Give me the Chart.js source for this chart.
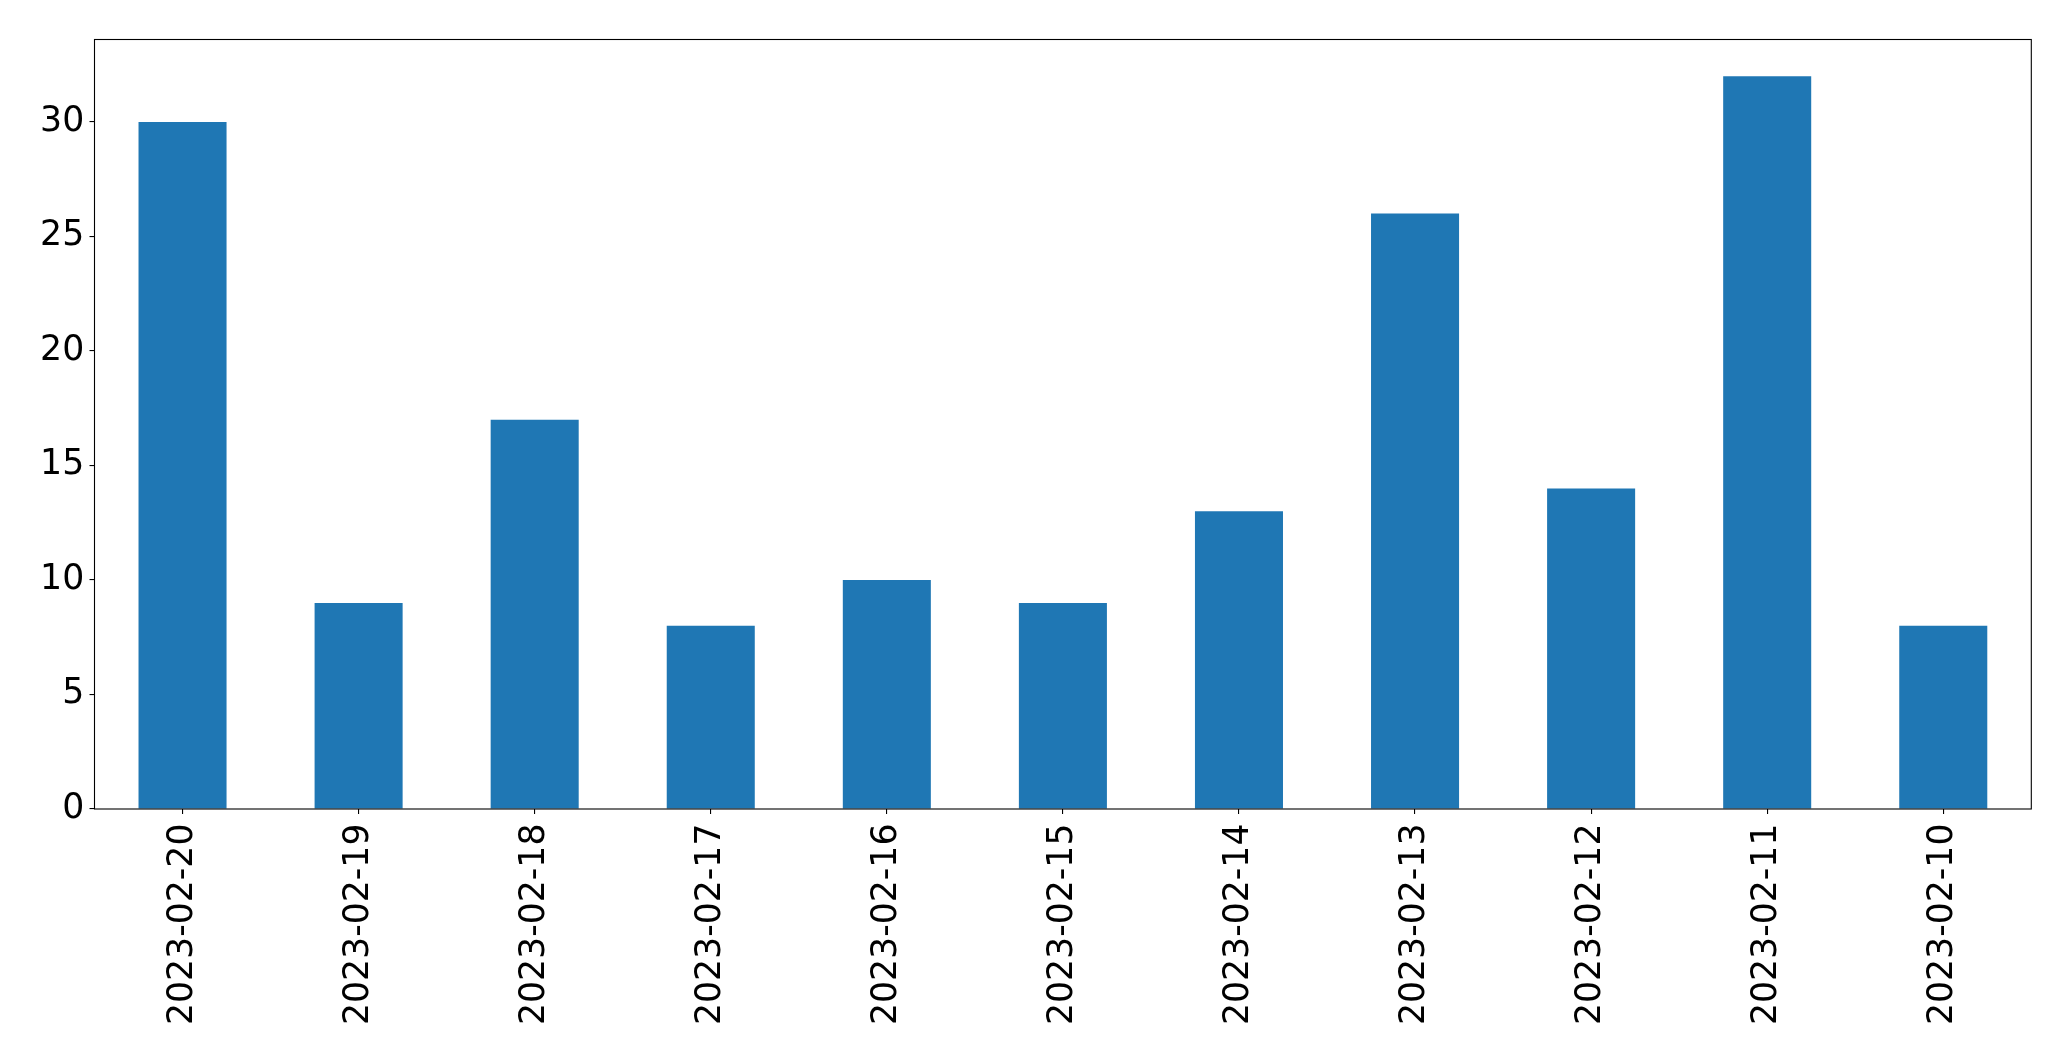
<!DOCTYPE html>
<html>
<head>
<meta charset="utf-8">
<script src="https://cdn.jsdelivr.net/npm/chart.js@4"></script>
<style>
  html, body { margin: 0; padding: 0; background: #fff; }
  canvas { display: block; }
</style>
</head>
<body>
<canvas id="barChart" width="2071" height="1061"></canvas>
<script>
// données
const dates = ['2023-02-20', '2023-02-19', '2023-02-18', '2023-02-17', '2023-02-16', '2023-02-15',
               '2023-02-14', '2023-02-13', '2023-02-12', '2023-02-11', '2023-02-10'];
const counts = [30, 9, 17, 8, 10, 9, 13, 26, 14, 32, 8];
const yTicks = [0, 5, 10, 15, 20, 25, 30];

const FONT = { family: 'DejaVu Sans', size: 34.7 };

// cadre noir autour de la zone de tracé (comme matplotlib)
const framePlugin = {
    id: 'frame',
    afterDraw(chart) {
        const { ctx, chartArea: a } = chart;
        ctx.save();
        ctx.strokeStyle = '#000';
        ctx.lineWidth = 1.1;
        ctx.strokeRect(a.left, a.top, a.right - a.left, a.bottom - a.top);
        ctx.restore();
    }
};

document.addEventListener('DOMContentLoaded', function () {
    const ctx = document.getElementById('barChart').getContext('2d');
    new Chart(ctx, {
        type: 'bar',
        data: {
            labels: dates,
            datasets: [{
                data: counts,
                backgroundColor: '#1f77b4',
                borderWidth: 0,
                barPercentage: 0.5,
                categoryPercentage: 1.0
            }]
        },
        options: {
            responsive: false,
            animation: false,
            devicePixelRatio: 1,
            layout: { padding: { left: 0, top: 39.5, right: 39.7, bottom: 0 } },
            plugins: { legend: { display: false }, tooltip: { enabled: false } },
            scales: {
                x: {
                    grid: { offset: false, drawOnChartArea: false, drawTicks: true, tickLength: 5, color: '#000', lineWidth: 1.1 },
                    border: { display: false },
                    ticks: { color: '#000', font: FONT, minRotation: 90, maxRotation: 90, padding: 9.5, autoSkip: false },
                    afterFit(scale) { scale.height = 252; }
                },
                y: {
                    min: 0,
                    max: 33.6,
                    grid: { drawOnChartArea: false, drawTicks: true, tickLength: 5, color: '#000', lineWidth: 1.1 },
                    border: { display: false },
                    ticks: { color: '#000', font: FONT, stepSize: 5, padding: 5.3, includeBounds: false },
                    afterBuildTicks(scale) { scale.ticks = yTicks.map(v => ({ value: v })); },
                    afterFit(scale) { scale.width = 94.5; }
                }
            }
        },
        plugins: [framePlugin]
    });
});
</script>
</body>
</html>
